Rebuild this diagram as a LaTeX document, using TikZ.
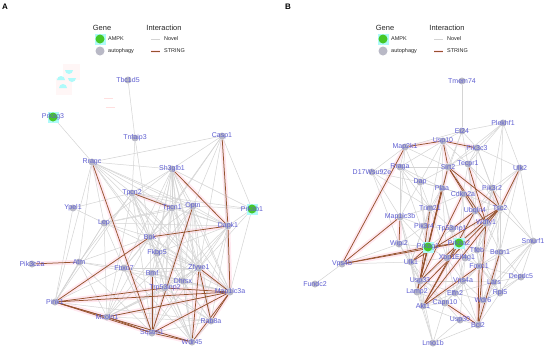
\documentclass[tikz,border=0pt]{standalone}
\usepackage{fontspec}
\setmainfont{Liberation Sans}
\definecolor{lblue}{RGB}{95,95,210}
\definecolor{ngray}{RGB}{185,185,198}
\definecolor{ampk}{RGB}{70,200,40}
\definecolor{cyanbg}{RGB}{175,250,250}
\definecolor{egray}{RGB}{212,212,212}
\definecolor{sbrown}{RGB}{150,82,45}
\definecolor{halo}{RGB}{255,232,240}
\pgfdeclarelayer{bg}
\pgfsetlayers{bg,main}
\tikzset{
  lbl/.style={text=lblue, font=\fontsize{7}{8}\selectfont, inner sep=0pt},
  gn/.style={circle, fill=ngray, inner sep=0pt, minimum size=7pt, label={[lbl]center:#1}},
  am/.style={circle, fill=ampk, inner sep=0pt, minimum size=9pt, label={[lbl]center:#1}},
  sq/.style={fill=cyanbg, inner sep=0pt, minimum size=11pt},
  novel/.style={draw=egray, line width=0.5pt},
  strl/.style={draw=sbrown, line width=0.75pt},
  halol/.style={draw=halo, line width=4.5pt},
  legt/.style={font=\fontsize{7.5}{8}\selectfont, text=black!85, inner sep=0pt},
  legs/.style={font=\fontsize{5.5}{6}\selectfont, text=black!85, inner sep=0pt, anchor=west},
  panel/.style={font=\bfseries\fontsize{8}{9}\selectfont, inner sep=0pt},
}
\begin{document}
\begin{tikzpicture}[x=1pt,y=-1pt]
\useasboundingbox (0,0) rectangle (550,351);
% panel letters
\node[panel] (pA) at (5,7) {A};
\node[panel] (pB) at (288,7) {B};
% legends
\foreach \o/\n in {0/a,283/b}{
  \node[legt] (gene\n) at (102+\o,28) {Gene};
  \node[legt] (inter\n) at (164+\o,28) {Interaction};
  \node[sq] (sql\n) at (100+\o,39) {};
  \node[circle, fill=ampk, inner sep=0pt, minimum size=9pt] (lam\n) at (100+\o,39) {};
  \node[circle, fill=ngray, inner sep=0pt, minimum size=9pt] (lau\n) at (100+\o,51) {};
  \node[legs] (tam\n) at (108+\o,39) {AMPK};
  \node[legs] (tau\n) at (108+\o,51) {autophagy};
  \coordinate (n1\n) at (151+\o,39); \coordinate (n2\n) at (160+\o,39);
  \coordinate (s1\n) at (151+\o,51); \coordinate (s2\n) at (160+\o,51);
  \draw[novel] (n1\n) -- (n2\n);
  \draw[draw=halo, line width=3pt] (s1\n) -- (s2\n);
  \draw[strl] (s1\n) -- (s2\n);
  \node[legs] (tno\n) at (164+\o,39) {Novel};
  \node[legs] (tst\n) at (164+\o,51) {STRING};
}
% artefacts top left of A
\fill[pink!15] (63,64) rectangle (80,80);
\fill[pink!15] (56,78) rectangle (72,95);
\fill[cyanbg] (69,70) ++(-4,0) arc (180:0:4) -- cycle;
\fill[cyanbg] (72,78) ++(-4,0) arc (180:0:4) -- cycle;
\fill[cyanbg] (61,80) ++(-4,0) arc (180:360:4) -- cycle;
\fill[cyanbg] (63,88) ++(-4,0) arc (180:360:4) -- cycle;
\draw[pink!50, line width=0.6pt] (104,98) -- (113,98);
\draw[pink!50, line width=0.6pt] (106,107) -- (115,107);

% ---------------- Panel A nodes
\node[sq] (sqa1) at (53,117) {};
\node[sq] (sqa2) at (252,209) {};
\node[gn=Tbc1d5] (tbc) at (128,80) {};
\node[am=Prkag3] (prkag3) at (53,117) {};
\node[gn=Tnfaip3] (tnf) at (135,138) {};
\node[gn=Casp1] (casp) at (222,136) {};
\node[gn=Rragc] (rragc) at (92,162) {};
\node[gn=Sh3glb1] (sh3) at (172,169) {};
\node[gn=Tpcn2] (tpcn2) at (132,193) {};
\node[gn=Tpcn1] (tpcn1) at (172,208) {};
\node[gn=Optn] (optn) at (193,206) {};
\node[am=Prkab1] (prkab1) at (252,209) {};
\node[gn=Dapk1] (dapk) at (228,226) {};
\node[gn=Ypel1] (ypel) at (73,208) {};
\node[gn=Lep] (lep) at (104,223) {};
\node[gn=Bok] (bok) at (150,237) {};
\node[gn=Fkbp5] (fkbp) at (157,253) {};
\node[gn=Atm] (atm) at (79,262) {};
\node[gn=Pik3c2a] (pik3c2a) at (32,264) {};
\node[gn=Fbxo7] (fbxo7) at (124,268) {};
\node[gn=Bmf] (bmf) at (152,273) {};
\node[gn=Zfyve1] (zfyve) at (199,268) {};
\node[gn=Dhrsx] (dhrsx) at (183,281) {};
\node[gn=Trp53inp2] (trp) at (165,288) {};
\node[gn=Map1lc3a] (lc3a) at (230,292) {};
\node[gn=Pink1] (pink) at (55,302) {};
\node[gn=Mcoln1] (mcoln) at (107,317) {};
\node[gn=Rab8a] (rab) at (211,321) {};
\node[gn=Sqstm1] (sqstm) at (152,333) {};
\node[gn=Wdr45] (wdr45) at (192,342) {};

% ---------------- Panel B nodes
\node[sq] (sqb1) at (428,247) {};
\node[sq] (sqb2) at (459,243) {};
\node[gn=Tmem74] (tmem) at (462,81) {};
\node[gn=Plekhf1] (plek) at (503,123) {};
\node[gn=Ei24] (ei24) at (462,131) {};
\node[gn=Usp10] (usp10) at (443,141) {};
\node[gn=Map2k1] (map2k1) at (405,147) {};
\node[gn=Pik3c3] (pik3c3) at (477,148) {};
\node[gn=Tecpr1] (tecpr1) at (468,164) {};
\node[gn=Sirt2] (sirt2) at (448,167) {};
\node[gn=Ulk2] (ulk2) at (520,168) {};
\node[gn=Rraga] (rraga) at (400,167) {};
\node[gn=D17Wsu92e] (d17) at (372,172) {};
\node[gn=Dap] (dap) at (420,182) {};
\node[gn=Pik3r2] (pik3r2) at (492,188) {};
\node[gn=Plaa] (plaa) at (442,188) {};
\node[gn=Cdkn2a] (cdkn) at (463,194) {};
\node[gn=Trim21] (trim) at (430,208) {};
\node[gn=Map1lc3b] (lc3b) at (400,217) {};
\node[gn=Ubqln4] (ubq) at (475,211) {};
\node[gn=Tsc2] (tsc2) at (500,208) {};
\node[gn=Pik3r4] (pik3r4) at (424,226) {};
\node[gn=Tp53inp1] (tp53) at (452,229) {};
\node[gn=Wdfy1] (wdfy) at (486,223) {};
\node[gn=Wipi2] (wipi2) at (399,244) {};
\node[am=Prkag1] (prkag1) at (428,247) {};
\node[am=Prkaa2] (prkaa2) at (459,243) {};
\node[gn=Tfeb] (tfeb) at (477,250) {};
\node[gn=Becn1] (becn) at (500,252) {};
\node[gn=Smurf1] (smurf) at (533,241) {};
\node[gn=Vps4b] (vps4b) at (342,264) {};
\node[gn=Fundc2] (fundc) at (315,284) {};
\node[gn=Ulk1] (ulk1) at (411,262) {};
\node[gn=Xbp1] (xbp) at (447,258) {};
\node[gn=Eif4g1] (eif) at (465,258) {};
\node[gn=Foxo1] (foxo) at (479,266) {};
\node[gn=Depdc5] (depdc) at (521,277) {};
\node[gn=Usp33] (usp33) at (420,281) {};
\node[gn=Vps4a] (vps4a) at (463,281) {};
\node[gn=Lars] (lars) at (494,282) {};
\node[gn=Rpl5] (rpl5) at (500,293) {};
\node[gn=Lamp2] (lamp2) at (417,292) {};
\node[gn=Elfn2] (elfn) at (455,293) {};
\node[gn=Wdr6] (wdr6) at (483,300) {};
\node[gn=Capn10] (capn) at (445,303) {};
\node[gn=Akt1] (akt) at (423,306) {};
\node[gn=Usp30] (usp30) at (460,320) {};
\node[gn=Bcl2] (bcl2) at (478,325) {};
\node[gn=Lmo1b] (lmo) at (433,343) {};

\def\strAB{casp/dapk,sh3/dapk,tpcn2/tpcn1,rragc/sqstm,optn/sqstm,bok/dapk,bok/pink,atm/pik3c2a,pink/lc3a,pink/trp,pink/sqstm,pink/mcoln,mcoln/lc3a,mcoln/sqstm,sqstm/lc3a,sqstm/wdr45,zfyve/lc3a,zfyve/wdr45,zfyve/rab,wdr45/lc3a,rab/lc3a,trp/lc3a,bmf/sqstm,dapk/lc3a,pink/wdr45,
map2k1/usp10,usp10/pik3c3,usp10/sirt2,map2k1/vps4b,lc3b/vps4b,prkag1/vps4b,prkaa2/vps4b,lc3b/wipi2,ulk1/prkag1,sirt2/tsc2,sirt2/ubq,ulk2/tsc2,tecpr1/wdfy,tsc2/akt,tsc2/prkaa2,ubq/tp53,usp33/sirt2,usp33/prkaa2,lamp2/prkag1,akt/foxo,akt/prkaa2,bcl2/becn,bcl2/capn,bcl2/foxo,prkag1/prkaa2,lamp2/plaa,trim/usp33,tsc2/ulk1,wdfy/bcl2,sirt2/wdfy,pik3r2/tsc2,plaa/lamp2,cdkn/usp33,tsc2/lamp2,ubq/akt}

\begin{pgfonlayer}{bg}
\fill[white] (0,0) rectangle (550,351);
\foreach \a/\b in \strAB {\draw[halol] (\a) -- (\b);}
% Panel A novel edges
\foreach \a/\b in {tbc/tnf,tnf/tpcn2,tnf/bok,prkag3/rragc,rragc/casp,rragc/sh3,rragc/tpcn1,rragc/optn,rragc/dapk,rragc/bok,rragc/lep,rragc/atm,rragc/pink,rragc/zfyve,rragc/tpcn2,rragc/fkbp,
casp/sh3,casp/optn,casp/tpcn1,casp/zfyve,casp/lc3a,casp/bok,casp/prkab1,
sh3/tpcn2,sh3/lep,sh3/bok,sh3/fkbp,sh3/bmf,sh3/trp,sh3/zfyve,sh3/dhrsx,sh3/lc3a,sh3/prkab1,sh3/fbxo7,sh3/optn,sh3/tpcn1,sh3/wdr45,sh3/rab,
prkab1/dapk,prkab1/lc3a,prkab1/zfyve,prkab1/optn,prkab1/tpcn2,
ypel/tpcn2,ypel/pink,ypel/lep,
lep/optn,lep/dapk,lep/pink,lep/mcoln,lep/bok,lep/tpcn1,lep/sqstm,lep/zfyve,
tpcn2/bok,tpcn2/wdr45,tpcn2/sqstm,tpcn2/mcoln,tpcn2/lc3a,tpcn2/dapk,tpcn2/optn,tpcn2/zfyve,tpcn2/trp,tpcn2/dhrsx,
tpcn1/bok,tpcn1/zfyve,tpcn1/wdr45,tpcn1/lc3a,tpcn1/fbxo7,tpcn1/dhrsx,tpcn1/trp,tpcn1/sqstm,tpcn1/dapk,
optn/dapk,optn/bok,optn/zfyve,optn/fkbp,optn/trp,optn/wdr45,optn/rab,optn/dhrsx,optn/lc3a,optn/bmf,
dapk/zfyve,dapk/rab,dapk/wdr45,dapk/dhrsx,dapk/trp,dapk/fkbp,
atm/pink,atm/fbxo7,atm/mcoln,atm/lc3a,atm/bok,atm/tpcn2,atm/sqstm,
pink/fbxo7,pink/rab,pink/lep,pink/tpcn2,
bok/zfyve,bok/fbxo7,bok/mcoln,bok/wdr45,bok/trp,bok/lc3a,bok/rab,bok/sqstm,
fkbp/zfyve,fkbp/wdr45,fkbp/lc3a,fkbp/mcoln,fkbp/sqstm,
fbxo7/sqstm,fbxo7/wdr45,fbxo7/mcoln,fbxo7/lc3a,fbxo7/zfyve,fbxo7/rab,
bmf/dhrsx,bmf/wdr45,bmf/lc3a,bmf/zfyve,bmf/mcoln,
zfyve/dhrsx,zfyve/sqstm,zfyve/trp,zfyve/mcoln,
trp/wdr45,trp/rab,trp/mcoln,trp/sqstm,
dhrsx/lc3a,dhrsx/wdr45,dhrsx/mcoln,dhrsx/sqstm,dhrsx/rab,
rab/wdr45,rab/sqstm,rab/mcoln,mcoln/wdr45,lc3a/mcoln}
  {\draw[novel] (\a) -- (\b);}
% Panel B novel edges
\foreach \a/\b in {tmem/ei24,plek/ei24,plek/pik3c3,plek/pik3r2,plek/tsc2,plek/ulk2,plek/sirt2,plek/tecpr1,
ei24/usp10,ei24/sirt2,ei24/pik3c3,ei24/tecpr1,ei24/plaa,ei24/map2k1,
usp10/rraga,usp10/dap,usp10/plaa,usp10/trim,usp10/tecpr1,usp10/cdkn,
map2k1/rraga,map2k1/lc3b,map2k1/dap,map2k1/sirt2,map2k1/d17,
pik3c3/tecpr1,pik3c3/pik3r2,pik3c3/ulk2,pik3c3/tsc2,pik3c3/sirt2,pik3c3/ubq,
tecpr1/sirt2,tecpr1/ubq,tecpr1/pik3r2,tecpr1/cdkn,tecpr1/tsc2,tecpr1/foxo,
ulk2/pik3r2,ulk2/becn,ulk2/ubq,ulk2/foxo,
rraga/d17,rraga/dap,rraga/lc3b,rraga/sirt2,rraga/trim,rraga/plaa,rraga/prkag1,
d17/lc3b,d17/dap,d17/wipi2,d17/trim,
dap/plaa,dap/trim,dap/lc3b,dap/prkag1,dap/sirt2,dap/pik3r4,dap/cdkn,
pik3r2/becn,pik3r2/foxo,pik3r2/ubq,pik3r2/cdkn,pik3r2/wdfy,pik3r2/smurf,pik3r2/tfeb,
plaa/cdkn,plaa/trim,plaa/tp53,plaa/prkag1,plaa/sirt2,plaa/vps4a,plaa/pik3r4,plaa/xbp,
cdkn/ubq,cdkn/tsc2,cdkn/prkaa2,cdkn/wdfy,cdkn/trim,cdkn/eif,
trim/lc3b,trim/tp53,trim/pik3r4,trim/prkag1,trim/ulk1,trim/xbp,
lc3b/ulk1,lc3b/prkag1,lc3b/pik3r4,lc3b/lamp2,lc3b/usp33,
tsc2/ubq,tsc2/wdfy,tsc2/becn,tsc2/foxo,tsc2/smurf,tsc2/tfeb,tsc2/lars,
wipi2/prkag1,wipi2/ulk1,wipi2/vps4b,wipi2/pik3r4,wipi2/usp33,
vps4b/fundc,vps4b/ulk1,
smurf/becn,smurf/depdc,smurf/rpl5,smurf/lars,smurf/foxo,smurf/wdr6,smurf/ulk2,
becn/foxo,becn/lars,becn/depdc,becn/tfeb,becn/wdfy,becn/rpl5,becn/wdr6,
foxo/lars,foxo/vps4a,foxo/wdr6,foxo/depdc,foxo/tfeb,foxo/eif,foxo/elfn,foxo/rpl5,
depdc/lars,depdc/rpl5,depdc/wdr6,
ulk1/lamp2,ulk1/usp33,ulk1/akt,ulk1/xbp,ulk1/pik3r4,ulk1/capn,
usp33/lamp2,usp33/akt,usp33/vps4a,usp33/xbp,usp33/capn,usp33/elfn,
vps4a/elfn,vps4a/capn,vps4a/wdr6,vps4a/lars,vps4a/xbp,vps4a/eif,vps4a/akt,vps4a/usp30,
lars/rpl5,lars/wdr6,lars/elfn,
lamp2/akt,lamp2/capn,akt/capn,akt/lmo,akt/usp30,akt/elfn,
capn/elfn,capn/usp30,capn/lmo,
usp30/bcl2,usp30/lmo,bcl2/lmo,bcl2/wdr6,bcl2/rpl5,bcl2/elfn,bcl2/vps4a,bcl2/lars,
lmo/lamp2,lmo/usp33,
prkag1/pik3r4,prkag1/tp53,prkag1/xbp,prkag1/akt,prkag1/usp33,
prkaa2/tp53,prkaa2/xbp,prkaa2/eif,prkaa2/tfeb,prkaa2/wdfy,prkaa2/vps4a,prkaa2/foxo,prkaa2/ubq,
tp53/pik3r4,tp53/xbp,tp53/wdfy,tp53/ubq,wdfy/tfeb,wdfy/ubq,wdfy/foxo,
eif/xbp,eif/tfeb,eif/elfn,xbp/elfn,xbp/capn,tfeb/wdr6,tfeb/lars,wdr6/elfn,wdr6/rpl5}
  {\draw[novel] (\a) -- (\b);}
\foreach \a/\b in \strAB {\draw[strl] (\a) -- (\b);}
\end{pgfonlayer}
\end{tikzpicture}
\end{document}
